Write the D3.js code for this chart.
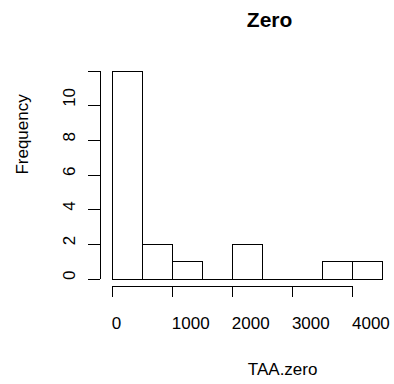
<!DOCTYPE html>
<html>
<head>
<meta charset="utf-8">
<script src="https://cdn.jsdelivr.net/npm/d3@7"></script>
<style>
	body { margin: 0; background: #fff; }
	text { font-family: "Liberation Sans", Arial, Helvetica, sans-serif; fill: #000; }
</style>
</head>
<body>
<div id="chartDiv"></div>
<script>
;(function() {

	var width = 394;
	var height = 384;

	// histogram bins (width 500) and their counts
	var binStarts = [0, 500, 1000, 1500, 2000, 2500, 3000, 3500, 4000];
	var binWidth = 500;
	var counts = [12, 2, 1, 0, 2, 0, 0, 1, 1];

	var xTicks = [0, 1000, 2000, 3000, 4000];
	var xTickLabels = ["0", "1000", "2000", "3000", "4000"];
	var yTicks = [0, 2, 4, 6, 8, 10, 12];
	var yTickLabels = ["0", "2", "4", "6", "8", "10", ""];

	var titleText = "Zero";
	var xAxisLabelHeader = "TAA.zero";
	var yAxisLabelHeader = "Frequency";

	var chart = d3.select("#chartDiv").append("svg")
		.attr("width", width)
		.attr("height", height);

	var xScale = d3.scaleLinear().domain([0, 4500]).range([111.7, 382]);
	var yScale = d3.scaleLinear().domain([0, 12]).range([278.5, 70.7]);

	// bars, drawn as closed paths so empty bins still show as a flat line
	chart.append("g").selectAll("path")
		.data(binStarts)
		.enter().append("path")
		.attr("d", function(d, i) {
			var x0 = Math.round(xScale(d)) + 0.5;
			var x1 = Math.round(xScale(d + binWidth)) + 0.5;
			var y0 = Math.round(yScale(0)) + 0.5;
			var y1 = Math.round(yScale(counts[i])) + 0.5;
			return "M" + x0 + "," + y0 + "V" + y1 + "H" + x1 + "V" + y0 + "Z";
		})
		.attr("fill", "#fff")
		.attr("stroke", "#000")
		.attr("stroke-width", 1)
		.attr("shape-rendering", "crispEdges");

	// x axis
	var xAxis = d3.axisBottom(xScale)
		.tickValues(xTicks)
		.tickFormat(function(d, i) { return xTickLabels[i]; })
		.tickSize(11)
		.tickSizeOuter(0);

	var xg = chart.append("g")
		.attr("transform", "translate(0,286)")
		.attr("shape-rendering", "crispEdges")
		.call(xAxis);
	xg.select(".domain").attr("d", "M" + (xScale(0) + 0.5) + ",0.5H" + (xScale(4000) + 0.5));
	xg.selectAll("line").attr("stroke", "#000");
	xg.selectAll("text")
		.attr("x", -0.5)
		.attr("y", 43)
		.attr("dy", null)
		.attr("text-anchor", "start")
		.style("font-size", "17px")
		.style("font-family", null);

	// y axis
	var yAxis = d3.axisLeft(yScale)
		.tickValues(yTicks)
		.tickFormat(function(d, i) { return yTickLabels[i]; })
		.tickSize(12)
		.tickSizeOuter(0);

	var yg = chart.append("g")
		.attr("transform", "translate(100,0)")
		.attr("shape-rendering", "crispEdges")
		.call(yAxis);
	yg.selectAll("line").attr("stroke", "#000");
	yg.selectAll("text")
		.attr("x", -1)
		.attr("y", -25)
		.attr("dy", null)
		.attr("transform", "rotate(-90)")
		.attr("text-anchor", "start")
		.style("font-size", "17px")
		.style("font-family", null);

	// title and axis headers
	chart.append("text")
		.attr("x", xScale(2250))
		.attr("y", 27)
		.style("font-size", "21px")
		.style("font-weight", "bold")
		.text(titleText);

	chart.append("text")
		.attr("x", xScale(2250) + 1)
		.attr("y", 375)
		.style("font-size", "17px")
		.text(xAxisLabelHeader);

	chart.append("text")
		.attr("transform", "translate(28," + yScale(6) + ") rotate(-90)")
		.style("font-size", "17px")
		.text(yAxisLabelHeader);

})();
</script>
</body>
</html>
